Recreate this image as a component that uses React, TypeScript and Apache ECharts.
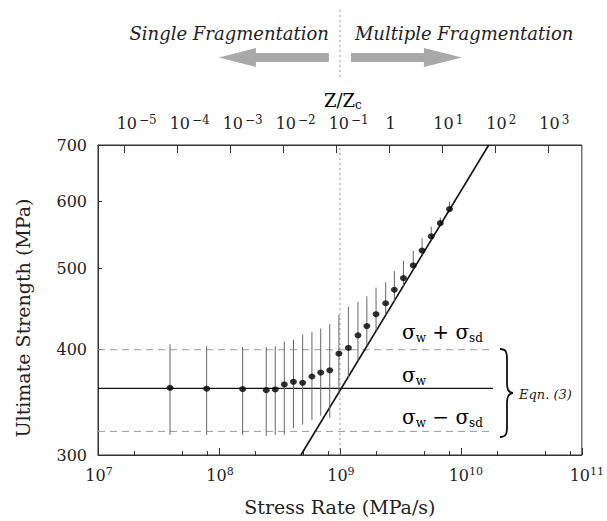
import React, { useEffect, useRef } from 'react';
import * as echarts from 'echarts';

// ---- data ----
const stressRate = [3.94e7, 7.91e7, 1.57e8, 2.46e8, 2.92e8, 3.47e8, 4.13e8, 4.92e8, 5.87e8, 6.94e8, 8.24e8, 9.81e8,
  1.175e9, 1.41e9, 1.67e9, 1.99e9, 2.39e9, 2.82e9, 3.35e9, 4.04e9, 4.78e9, 5.69e9, 6.76e9, 8.05e9];
const strength = [360.5, 359.6, 359.2, 358.2, 358.9, 363.8, 366.4, 365.4, 371.8, 375.8, 378.1, 395.7,
  402.0, 416.1, 426.7, 440.8, 454.2, 471.3, 486.5, 503.7, 524.6, 545.3, 565.4, 587.5];
const errLow = [317, 317, 317, 316, 317, 317, 323, 326, 330, 334, 332, 356,
  371, 388, 404, 421, 440, 457, 476, 498, 518, 540, 562, 586];
const errHigh = [406, 404, 403, 403, 404, 409, 411, 417, 420, 424, 429, 440,
  450, 456, 463, 474, 481, 496, 510, 524, 542, 560, 574, 600];
const bottomExponents = [7, 8, 9, 10, 11];
const bottomMinorTicks = [2e7, 5e7, 8e7, 2e8, 5e8, 8e8, 2e9, 5e9, 8e9, 2e10, 5e10, 8e10];
const topExponents = [-5, -4, -3, -2, -1, 0, 1, 2, 3];
const strengthTicks = [300, 400, 500, 600, 700];
const rateRange = [1e7, 1e11];
const strengthRange = [300, 700];
const zRangeExp = [-5.49, 3.64];
const sigmaW = 360;
const sigmaSd = 40;
const bandRates = [1e7, 1.84e10];
const criticalRate = 1e9;
const fitRate = [4.76e8, 1.7e10];
const fitStrength = [300, 700];

const lg = (v: number) => Math.log10(v);
const FONT = '"DejaVu Serif", "Liberation Serif", serif';
const INK = '#222';

const bracePath = 'M0 0 C6 0 7 3 7 10 L7 34 C7 40 9 44 13 44 C9 44 7 48 7 54 L7 78 C7 85 6 88 0 88';
let braceRegistered = false;

// label centre offset (in decades of Z/Zc) so that the "10" sits over its tick
const topLabelShift = (e: number) => (e < 0 ? 0.24 : e > 0 ? 0.12 : 0.03);

export default function App() {
  const ref = useRef<HTMLDivElement>(null);
  useEffect(() => {
    if (!ref.current) return;
    if (!braceRegistered) {
      echarts.graphic.registerShape('brace', echarts.graphic.extendPath(bracePath, {}) as any);
      braceRegistered = true;
    }
    const chart = echarts.init(ref.current, null, { renderer: 'svg' });

    const supRich = {
      s: { fontFamily: FONT, fontSize: 11, color: INK, verticalAlign: 'top', lineHeight: 19 },
      t: { fontFamily: FONT, fontSize: 12, color: INK, verticalAlign: 'top', lineHeight: 19, padding: [0, 0, 0, 2] },
      b: { fontFamily: FONT, fontSize: 16, color: INK, lineHeight: 19 },
      b1: { fontFamily: FONT, fontSize: 16, color: INK, lineHeight: 19, padding: [0, 0, 0, 2] },
      b2: { fontFamily: FONT, fontSize: 16, color: INK, lineHeight: 19, padding: [0, 0, 0, 10] },
    };

    const hLine = (val: number, color: string, type: any, width: number) => ({
      type: 'line',
      data: bandRates.map((r) => [lg(r), lg(val)]),
      symbol: 'none',
      silent: true,
      lineStyle: { color, type, width },
      z: 2,
    });

    chart.setOption({
      animation: false,
      backgroundColor: '#fff',
      grid: { left: 98, top: 145, width: 484, height: 312, show: true, borderColor: '#333', borderWidth: 1, backgroundColor: 'transparent' },
      xAxis: [
        {
          type: 'value', position: 'bottom', min: lg(rateRange[0]), max: lg(rateRange[1]), interval: 1,
          axisLine: { show: true, onZero: false, lineStyle: { color: '#333', width: 1 } },
          axisTick: { show: true, inside: true, length: 7, lineStyle: { color: '#333' } },
          splitLine: { show: false },
          axisLabel: {
            margin: 11, color: INK, showMinLabel: true, showMaxLabel: true, hideOverlap: false,
            customValues: bottomExponents,
            formatter: (v: number) => {
              const e = Math.round(v);
              return `{${e >= 10 ? 'b2' : 'b1'}|10}{s|${e}}`;
            },
            rich: supRich,
          },
          name: 'Stress Rate (MPa/s)', nameLocation: 'middle', nameGap: 42,
          nameTextStyle: { fontFamily: FONT, fontSize: 19, color: INK },
        },
        {
          type: 'value', position: 'bottom', min: lg(rateRange[0]), max: lg(rateRange[1]),
          axisLine: { show: false, onZero: false },
          axisTick: { show: true, inside: true, length: 4, customValues: bottomMinorTicks.map(lg), lineStyle: { color: '#333' } },
          axisLabel: { show: false },
          splitLine: { show: false },
        },
        {
          type: 'value', position: 'top', min: zRangeExp[0], max: zRangeExp[1],
          axisLine: { show: true, onZero: false, lineStyle: { color: '#333', width: 1 } },
          axisTick: { show: true, inside: true, length: 8, customValues: topExponents, lineStyle: { color: '#333' } },
          splitLine: { show: false },
          axisLabel: {
            margin: 12, color: INK, customValues: topExponents.map((e) => e + topLabelShift(e)),
            showMinLabel: true, showMaxLabel: true, hideOverlap: false,
            formatter: (v: number) => {
              const e = Math.round(v);
              if (e === 0) return '{b|1}';
              const sup = e < 0 ? '\u2212' + -e : String(e);
              return `{b|10}{t|${sup}}`;
            },
            rich: supRich,
          },
        },
      ],
      yAxis: [
        {
          type: 'value', min: lg(strengthRange[0]), max: lg(strengthRange[1]),
          axisLine: { show: true, onZero: false, lineStyle: { color: '#333', width: 1 } },
          axisTick: { show: true, inside: true, length: 4, customValues: strengthTicks.map(lg), lineStyle: { color: '#333' } },
          splitLine: { show: false },
          axisLabel: {
            customValues: strengthTicks.map(lg), margin: 11,
            showMinLabel: true, showMaxLabel: true,
            formatter: (v: number) => String(Math.round(Math.pow(10, v))),
            fontFamily: FONT, fontSize: 16, color: INK,
          },
        },
      ],
      series: [
        hLine(sigmaW + sigmaSd, '#999', [7, 5], 1),
        hLine(sigmaW - sigmaSd, '#999', [7, 5], 1),
        hLine(sigmaW, '#111', 'solid', 1.3),
        {
          type: 'line', silent: true, symbol: 'none', z: 2,
          data: fitRate.map((r, i) => [lg(r), lg(fitStrength[i])]),
          lineStyle: { color: '#111', width: 1.6 },
        },
        {
          type: 'line', silent: true, symbol: 'none', z: 1,
          data: strengthRange.map((s) => [lg(criticalRate), lg(s)]),
          lineStyle: { color: '#999', width: 1, type: [2, 3] },
        },
        {
          type: 'custom', silent: true, z: 3,
          encode: { x: 0, y: [1, 2] },
          data: stressRate.map((r, i) => [lg(r), lg(errLow[i]), lg(errHigh[i])]),
          renderItem: (params: any, api: any) => {
            const x = api.value(0);
            const p1 = api.coord([x, api.value(1)]);
            const p2 = api.coord([x, api.value(2)]);
            return {
              type: 'line',
              shape: { x1: p1[0], y1: p1[1], x2: p2[0], y2: p2[1] },
              style: { stroke: '#666', lineWidth: 1 },
            };
          },
        },
        {
          type: 'scatter', silent: true, z: 4,
          symbol: 'circle', symbolSize: [7, 6],
          itemStyle: { color: '#000' },
          data: stressRate.map((r, i) => [lg(r), lg(strength[i])]),
        },
      ],
    });

    const cx = chart.convertToPixel({ xAxisIndex: 0 } as any, lg(criticalRate)) as number;
    const italic = (text: string, x: number, y: number, size: number, align: string) => ({
      type: 'text',
      style: {
        text, x, y, font: `italic ${size}px ${FONT}`, fill: INK,
        align, textAlign: align, verticalAlign: 'middle', textVerticalAlign: 'middle',
      },
    });
    const sigmaRich = {
      s: { fontFamily: FONT, fontSize: 20, color: INK, lineHeight: 24 },
      sub: { fontFamily: FONT, fontSize: 12, color: INK, verticalAlign: 'bottom', lineHeight: 24 },
    };
    const sigmaText = (text: string, y: number) => ({
      type: 'text',
      style: { text, x: 402, y, rich: sigmaRich, align: 'left', textAlign: 'left', verticalAlign: 'middle', textVerticalAlign: 'middle' },
    });

    chart.setOption({
      graphic: [
        {
          type: 'text', x: 23, y: 318, rotation: Math.PI / 2,
          style: {
            text: 'Ultimate Strength (MPa)', font: `19px ${FONT}`, fill: INK,
            align: 'center', textAlign: 'center', verticalAlign: 'middle', textVerticalAlign: 'middle',
          },
        },
        italic('Single Fragmentation', cx - 11, 33, 18, 'right'),
        italic('Multiple Fragmentation', cx + 15, 33, 18, 'left'),
        {
          type: 'polygon',
          shape: { points: [[cx - 121, 57.5], [cx - 84, 48], [cx - 84, 53], [cx - 11, 53], [cx - 11, 62], [cx - 84, 62], [cx - 84, 67]] },
          style: { fill: '#a9a9a9' },
        },
        {
          type: 'polygon',
          shape: { points: [[cx + 11, 53], [cx + 84, 53], [cx + 84, 48], [cx + 122, 57.5], [cx + 84, 67], [cx + 84, 62], [cx + 11, 62]] },
          style: { fill: '#a9a9a9' },
        },
        {
          type: 'line',
          shape: { x1: cx, y1: 10, x2: cx, y2: 80 },
          style: { stroke: '#999', lineWidth: 1, lineDash: [2, 3] },
        },
        {
          type: 'text',
          style: {
            text: '{m|Z/Z}{c|c}', x: cx + 3, y: 100, align: 'center', textAlign: 'center', verticalAlign: 'middle', textVerticalAlign: 'middle',
            rich: {
              m: { fontFamily: FONT, fontSize: 18, color: INK, lineHeight: 22 },
              c: { fontFamily: FONT, fontSize: 12, color: INK, verticalAlign: 'bottom', lineHeight: 22 },
            },
          },
        },
        sigmaText('{s|σ}{sub|w}{s| + σ}{sub|sd}', 332),
        sigmaText('{s|σ}{sub|w}', 375),
        sigmaText('{s|σ}{sub|w}{s| \u2212 σ}{sub|sd}', 417),
        {
          type: 'brace', x: 500, y: 349,
          style: { stroke: '#111', fill: null, lineWidth: 1.8 },
        },
        italic('Eqn. (3)', 519, 394, 13, 'left'),
      ],
    });

    return () => chart.dispose();
  }, []);
  return <div ref={ref} style={{ position: 'absolute', left: 0, top: 0, width: 607, height: 521 }} />;
}
